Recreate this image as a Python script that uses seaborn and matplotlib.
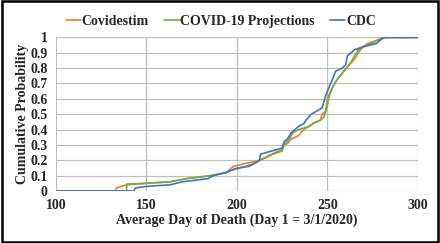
import pandas as pd
import matplotlib.pyplot as plt
import seaborn as sns
from matplotlib.patches import Rectangle

# 读取的数据点（从图上估计）
covidestim_day = [100, 133, 133.5, 139, 150, 163, 172, 185, 194, 198, 205, 213, 220, 225, 226, 228, 230,
                  234, 237, 242, 246, 247, 249, 250, 252, 255, 259, 262, 265, 267, 269, 272, 277, 281, 300]
covidestim_p = [0, 0, 0.02, 0.04, 0.05, 0.06, 0.08, 0.10, 0.12, 0.16, 0.18, 0.20, 0.24, 0.26, 0.30, 0.31, 0.34,
                0.36, 0.40, 0.44, 0.46, 0.50, 0.52, 0.60, 0.66, 0.72, 0.78, 0.82, 0.86, 0.90, 0.93, 0.96, 0.98, 1.0, 1.0]

proj_day = [100, 139, 139.2, 150, 163, 172, 186, 194, 200, 207, 212, 216, 221, 225, 226, 229, 231, 234,
            240, 242, 246, 248, 250, 251, 253, 255, 259, 263, 265, 267, 270, 274, 281, 300]
proj_p = [0, 0, 0.045, 0.05, 0.06, 0.08, 0.10, 0.12, 0.15, 0.16, 0.20, 0.22, 0.25, 0.27, 0.30, 0.34, 0.38, 0.40,
          0.42, 0.44, 0.46, 0.48, 0.56, 0.62, 0.68, 0.72, 0.78, 0.84, 0.88, 0.92, 0.94, 0.96, 1.0, 1.0]

cdc_day = [100, 143, 144, 150, 163, 170, 184, 187, 194, 198, 205, 210, 212.5, 213, 219, 225, 226, 228, 230,
           232, 234, 237, 238, 241, 247, 248, 249, 251, 252.5, 254.5, 258, 260, 261, 263, 265, 270, 277, 280, 282, 300]
cdc_p = [0, 0, 0.02, 0.03, 0.04, 0.06, 0.08, 0.10, 0.12, 0.14, 0.16, 0.18, 0.20, 0.24, 0.26, 0.28, 0.32, 0.34, 0.38,
         0.40, 0.42, 0.44, 0.46, 0.50, 0.54, 0.58, 0.62, 0.68, 0.72, 0.78, 0.80, 0.82, 0.88, 0.90, 0.92, 0.94, 0.96,
         0.99, 1.0, 1.0]

series_names = ['Covidestim', 'COVID-19 Projections', 'CDC']
colors = ['#ED7D31', '#70AD47', '#4472C4']

df = pd.concat([
    pd.DataFrame({'day': covidestim_day, 'p': covidestim_p, 'model': series_names[0]}),
    pd.DataFrame({'day': proj_day, 'p': proj_p, 'model': series_names[1]}),
    pd.DataFrame({'day': cdc_day, 'p': cdc_p, 'model': series_names[2]}),
])

sns.set_style('white')
plt.rcParams['font.family'] = ['Liberation Serif', 'DejaVu Serif']
plt.rcParams['font.weight'] = 'bold'

fig = plt.figure(figsize=(4.4, 2.43), dpi=100)
ax = fig.add_axes([0.127, 0.214, 0.823, 0.632])

sns.lineplot(data=df, x='day', y='p', hue='model', hue_order=series_names, palette=colors,
             sort=False, estimator=None, linewidth=1.2, ax=ax)

ax.set_xlim(100, 300)
ax.set_ylim(0, 1)
ax.set_xticks([100, 150, 200, 250, 300])
ax.set_yticks([i / 10 for i in range(11)])
ax.set_yticklabels(['0'] + [f'{i / 10:.1f}' for i in range(1, 10)] + ['1'])
ax.grid(True, color='#bfbfbf', linewidth=0.9)
ax.set_axisbelow(True)
for s in ax.spines.values():
    s.set_visible(False)
ax.tick_params(axis='both', length=0, labelsize=10, pad=6)
for lab in ax.get_xticklabels() + ax.get_yticklabels():
    lab.set_fontweight('bold')

ax.set_xlabel('Average Day of Death (Day 1 = 3/1/2020)', fontsize=10, fontweight='bold', labelpad=1)
ax.set_ylabel('Cumulative Probability', fontsize=10, fontweight='bold', labelpad=1)

ax.legend(loc='upper center', bbox_to_anchor=(0.502, 0.99), bbox_transform=fig.transFigure,
          ncol=3, frameon=False, handlelength=1.1, handletextpad=0.05, columnspacing=1.1,
          prop={'weight': 'bold', 'size': 10})

# 外框
fig.patches.append(Rectangle((0.004, 0.006), 0.992, 0.988, transform=fig.transFigure,
                             fill=False, edgecolor='black', linewidth=1.8))

plt.savefig('out.png', dpi=100)
